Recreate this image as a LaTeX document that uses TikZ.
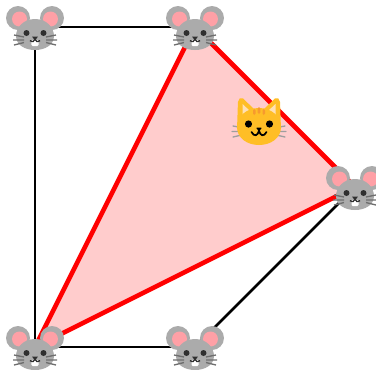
\documentclass[tikz,border=0pt]{standalone}
\definecolor{mgrey}{HTML}{ABABAB}
\definecolor{mpink}{HTML}{FFA0A6}
\definecolor{mwhisk}{HTML}{6E6E6E}
\definecolor{mdark}{HTML}{2F2F2F}
\definecolor{polyfill}{HTML}{FFCCCC}
\definecolor{cyel}{HTML}{FFBE26}
\definecolor{corg}{HTML}{F79A2E}
\definecolor{cear}{HTML}{FFE0B5}
\definecolor{cwhisk}{HTML}{9E9E9E}
\tikzset{
  x=0.75pt,y=-0.75pt,
  blackedge/.style={draw=black,line width=1.9pt},
  rededge/.style={draw=red,line width=3.5pt,line join=round,fill=polyfill},
  mousepic/.pic={
    \fill[mgrey] (-17,-9) circle[radius=12];
    \fill[mgrey] (17,-9) circle[radius=12];
    \fill[mpink] (-15.5,-8) circle[radius=7.5];
    \fill[mpink] (15.5,-8) circle[radius=7.5];
    \fill[mgrey] (0,-8) .. controls (12,-8) and (19,1) .. (19,9) .. controls (19,18) and (10,23) .. (0,23)
      .. controls (-10,23) and (-19,18) .. (-19,9) .. controls (-19,1) and (-12,-8) .. (0,-8) -- cycle;
    \draw[mwhisk,line width=1pt]
      (-11,10)--(-21,8) (-11,13)--(-22,13) (-11,15.5)--(-21,18)
      (11,10)--(21,8) (11,13)--(22,13) (11,15.5)--(21,18);
    \fill[mdark] (-8.5,6) circle[radius=3];
    \fill[mdark] (8.5,6) circle[radius=3];
    \fill[white,rounded corners=0.8pt] (-3.5,13) rectangle (3.5,19);
    \draw[mdark,line width=1pt] (-5,13.5) .. controls (-2.5,15.5) and (-1,14.5) .. (0,12.5) .. controls (1,14.5) and (2.5,15.5) .. (5,13.5);
    \fill[mdark] (-3,9.5) -- (3,9.5) -- (0,13.5) -- cycle;
  },
  catpic/.pic={
    \draw[cwhisk,line width=1pt,line cap=round]
      (-15,6)--(-26,4) (-15,9.5)--(-27,9.5) (-15,12.5)--(-26,15)
      (15,6)--(26,4) (15,9.5)--(27,9.5) (15,12.5)--(26,15);
    \fill[cyel,rounded corners=1.5pt] (-22,8) -- (-21,-22) -- (-17.5,-25) -- (-4,-12) -- (4,-12) -- (17.5,-25) -- (21,-22) -- (22,8) -- cycle;
    \fill[cear] (-16.5,-18) -- (-16.5,-7) -- (-9,-11) -- cycle;
    \fill[cear] (16.5,-18) -- (16.5,-7) -- (9,-11) -- cycle;
    \fill[cyel] (-22,5) .. controls (-22,-6) and (-12,-14) .. (0,-14) .. controls (12,-14) and (22,-6) .. (22,5)
      .. controls (22,16) and (12,23) .. (0,23) .. controls (-12,23) and (-22,16) .. (-22,5) -- cycle;
    \fill[corg,rounded corners=1pt] (-6,-13) rectangle (-3.5,-7);
    \fill[corg,rounded corners=1pt] (-1.3,-15) rectangle (1.3,-8);
    \fill[corg,rounded corners=1pt] (3.5,-13) rectangle (6,-7);
    \fill[black] (-10.5,2) circle[radius=3.6];
    \fill[black] (10.5,2) circle[radius=3.6];
    \fill[black,rounded corners=0.6pt] (-3,5.5) -- (3,5.5) -- (0,9.5) -- cycle;
    \draw[black,line width=1.3pt,line cap=round] (-7.5,10) .. controls (-5,15) and (-1,14) .. (0,8.5) .. controls (1,14) and (5,15) .. (7.5,10);
  }
}
\begin{document}
\begin{tikzpicture}
\useasboundingbox (0,0) rectangle (376,369);
\coordinate (a) at (35,27);
\coordinate (b) at (195,27);
\coordinate (c) at (355,187);
\coordinate (d) at (35,347);
\coordinate (e) at (195,347);
\coordinate (f) at (259,122);
\draw[blackedge] (a) -- (b);
\draw[blackedge] (a) -- (d);
\draw[blackedge] (d) -- (e);
\draw[blackedge] (e) -- (c);
\draw[rededge] (b) -- (c) -- (d) -- cycle;
\foreach \v in {a,b,c,d,e} \pic at (\v) {mousepic};
\pic at (f) {catpic};
\end{tikzpicture}
\end{document}
